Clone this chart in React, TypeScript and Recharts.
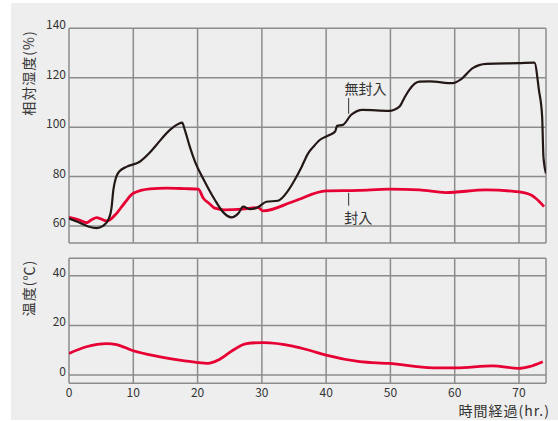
import React from 'react';
import { LineChart, Line, XAxis, YAxis, CartesianGrid, ReferenceLine } from 'recharts';

const FONT = '"Noto Sans CJK JP", "Noto Sans", sans-serif';
const TEXT = '#333333';
const GRID = '#8c8c8c';
const BLACK = '#231815';
const RED = '#e60033';

const hourTicks = [0, 10, 20, 30, 40, 50, 60, 70];
const rhTicks = [60, 80, 100, 120, 140];
const tempTicks = [0, 20, 40];

const unsealedHours = [0, 1.5, 3, 4.3, 5.3, 6.2, 6.6, 6.9, 7.3, 7.8, 9, 11, 12.5, 13.6, 15.7, 17.0, 17.6, 18, 18.8, 19.6, 21, 22.7, 24, 25.3, 26.3, 27.1, 28.1, 29.4, 30.7, 32.5, 34, 35.1, 36.2, 37.2, 38, 39, 40.5, 41.4, 41.7, 42.6, 43.9, 45.7, 49.8, 51.4, 52.2, 52.9, 54.5, 56.1, 59.7, 61, 62.8, 64.9, 70, 72.4, 73.1, 73.6, 73.8, 74.2];
const unsealedRH = [63, 61.5, 59.8, 59.1, 60, 63, 67, 74.6, 79.5, 82, 84, 86, 89.5, 92.8, 98.9, 101.3, 101.8, 99, 92, 86, 78.5, 70.5, 65.5, 63.5, 65, 67.8, 66.8, 67.6, 69.8, 70.2, 74, 78.6, 84, 89.4, 92, 94.8, 96.8, 98.2, 100.5, 100.9, 105, 107, 106.6, 108.3, 112, 115, 118.4, 118.5, 117.8, 119.4, 123.9, 125.6, 125.9, 126.1, 115, 104.3, 88, 81.3];

const sealedHours = [0, 1.5, 2.7, 3.5, 4.3, 5.9, 7.4, 8.7, 10, 12.6, 15.2, 18, 20.1, 20.9, 21.9, 22.7, 24.2, 27, 29.4, 30.2, 35, 40, 45, 49.8, 54.5, 58.6, 64.9, 69.5, 71.8, 72.6, 73.9];
const sealedRH = [63.5, 62.5, 61.3, 62.5, 63.4, 62, 65.1, 69.5, 73.2, 75, 75.3, 75.1, 74.9, 71.2, 68.9, 67.2, 66.5, 66.8, 67.4, 66.1, 70, 74.2, 74.4, 74.9, 74.6, 73.5, 74.6, 73.9, 72.6, 71.2, 67.8];

const tempHours = [0, 2.7, 5.9, 7.4, 10, 13.6, 17.2, 19.8, 21.6, 23.4, 25.5, 27.6, 30.2, 34.8, 37.4, 40, 45.2, 49.8, 56.6, 60.2, 65.9, 70, 71.6, 73.7];
const tempValues = [8.7, 11.4, 12.7, 12.3, 9.8, 7.6, 6, 5.1, 4.7, 6.3, 10, 12.7, 13.1, 11.7, 10, 8, 5.4, 4.7, 2.9, 2.9, 3.7, 2.7, 3.4, 5.4];

const zip = (xs: number[], ys: number[]) => xs.map((h, i) => ({ h, v: ys[i] }));
const unsealedData = zip(unsealedHours, unsealedRH);
const sealedData = zip(sealedHours, sealedRH);
const tempData = zip(tempHours, tempValues);

const X_DOMAIN: [number, number] = [0, 74.2];

const YTick = (props: any) => {
  const { x, y, payload } = props;
  return (
    <text x={x} y={y + 1} textAnchor="end" fontSize={12} fill={TEXT} fontFamily={FONT}>
      {payload.value}
    </text>
  );
};

const XTick = (props: any) => {
  const { x, y, payload } = props;
  return (
    <text x={x} y={y + 14} textAnchor="middle" fontSize={12} fill={TEXT} fontFamily={FONT}>
      {payload.value}
    </text>
  );
};

export default function App() {
  const W = 558;
  const H = 421;
  return (
    <div style={{ position: 'absolute', left: 0, top: 0, width: W, height: H, background: '#ffffff', overflow: 'hidden' }}>
      <div style={{ position: 'absolute', left: 11, top: 3, width: W - 11, height: 417, background: '#eeeeee' }} />
      <div style={{ position: 'absolute', left: 0, top: 0 }}>
        <LineChart width={W} height={H} margin={{ top: 28.3, right: 12, left: 39, bottom: 178 }}>
          <CartesianGrid stroke={GRID} strokeWidth={1.5} />
          <XAxis dataKey="h" type="number" domain={X_DOMAIN} ticks={hourTicks} allowDataOverflow hide />
          <YAxis
            type="number"
            domain={[53.1, 140]}
            ticks={rhTicks}
            allowDataOverflow
            width={30}
            axisLine={false}
            tickLine={false}
            tickSize={0}
            tickMargin={3}
            tick={<YTick />}
          />
          <ReferenceLine segment={[{ x: 43.5, y: 105.4 }, { x: 43.5, y: 111.8 }]} stroke={TEXT} strokeWidth={1} />
          <ReferenceLine segment={[{ x: 43.5, y: 68.2 }, { x: 43.5, y: 73.4 }]} stroke={TEXT} strokeWidth={1} />
          <Line data={sealedData} dataKey="v" type="monotone" stroke={RED} strokeWidth={2.8} dot={false} isAnimationActive={false} />
          <Line data={unsealedData} dataKey="v" type="monotone" stroke={BLACK} strokeWidth={2.2} dot={false} isAnimationActive={false} />
        </LineChart>
      </div>
      <div style={{ position: 'absolute', left: 0, top: 0 }}>
        <LineChart width={W} height={H} margin={{ top: 258.3, right: 12, left: 39, bottom: 17.7 }}>
          <CartesianGrid stroke={GRID} strokeWidth={1.5} />
          <XAxis
            dataKey="h"
            type="number"
            domain={X_DOMAIN}
            ticks={hourTicks}
            allowDataOverflow
            height={20}
            axisLine={false}
            tickLine={false}
            tickSize={0}
            tickMargin={0}
            tick={<XTick />}
          />
          <YAxis
            type="number"
            domain={[-3.3, 47]}
            ticks={tempTicks}
            allowDataOverflow
            width={30}
            axisLine={false}
            tickLine={false}
            tickSize={0}
            tickMargin={3}
            tick={<YTick />}
          />
          <Line data={tempData} dataKey="v" type="monotone" stroke={RED} strokeWidth={2.8} dot={false} isAnimationActive={false} />
        </LineChart>
      </div>
      <svg width={W} height={H} style={{ position: 'absolute', left: 0, top: 0, pointerEvents: 'none' }}>
        <text x={28} y={73} transform="rotate(-90 28 73)" textAnchor="middle" dominantBaseline="central" fontSize={14} letterSpacing={1} fill={TEXT} fontFamily={FONT}>相対湿度(%)</text>
        <text x={28} y={288} transform="rotate(-90 28 288)" textAnchor="middle" dominantBaseline="central" fontSize={14} letterSpacing={1} fill={TEXT} fontFamily={FONT}>温度(℃)</text>
        <text x={550} y={410} textAnchor="end" dominantBaseline="central" fontSize={14} letterSpacing={1} fill={TEXT} fontFamily={FONT}>時間経過(hr.)</text>
        <text x={365.5} y={88} textAnchor="middle" dominantBaseline="central" fontSize={14} fill={TEXT} fontFamily={FONT}>無封入</text>
        <text x={358.3} y={216.7} textAnchor="middle" dominantBaseline="central" fontSize={14} fill={TEXT} fontFamily={FONT}>封入</text>
      </svg>
    </div>
  );
}
